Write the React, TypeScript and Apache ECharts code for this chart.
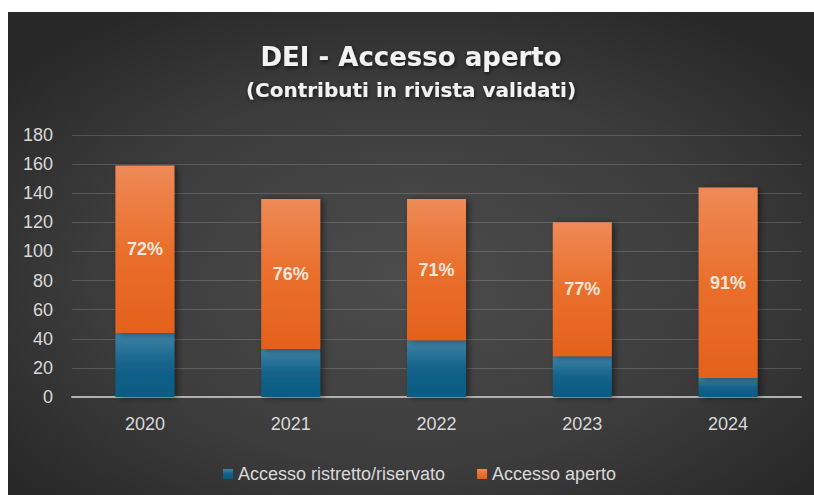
import React, { useEffect, useRef } from 'react';
import * as echarts from 'echarts';

const years = ['2020', '2021', '2022', '2023', '2024'];
const restricted = [44, 33, 39, 28, 13];
const openAccess = [115, 103, 97, 92, 131];
const openPct = ['72%', '76%', '71%', '77%', '91%'];
const seriesNames = ['Accesso ristretto/riservato', 'Accesso aperto'];
const titleText = 'DEI - Accesso aperto';
const subtitleText = '(Contributi in rivista validati)';

const W = 806;
const H = 483;

export default function App() {
  const ref = useRef<HTMLDivElement>(null);

  useEffect(() => {
    if (!ref.current) return;
    const chart = echarts.init(ref.current, undefined, { renderer: 'svg' });
    const blue = new echarts.graphic.LinearGradient(0, 0, 0, 1, [
      { offset: 0, color: '#3f83a5' },
      { offset: 0.5, color: '#13628a' },
      { offset: 1, color: '#0b5a82' },
    ]);
    const orange = new echarts.graphic.LinearGradient(0, 0, 0, 1, [
      { offset: 0, color: '#ee8a57' },
      { offset: 0.5, color: '#ea6f2c' },
      { offset: 1, color: '#e4611c' },
    ]);
    const shadow = {
      shadowColor: 'rgba(0,0,0,0.45)',
      shadowBlur: 6,
      shadowOffsetX: 3,
      shadowOffsetY: 1,
    };
    chart.setOption({
      animation: false,
      graphic: [
        {
          type: 'rect',
          z: -100,
          silent: true,
          shape: { x: 0, y: 0, width: W, height: H },
          style: {
            fill: new echarts.graphic.RadialGradient(0.5, 0.55, 0.65, [
              { offset: 0, color: '#4c4c4c' },
              { offset: 0.6, color: '#3c3c3c' },
              { offset: 1, color: '#282828' },
            ]),
          },
        },
      ],
      title: [
        {
          text: titleText,
          left: 'center',
          top: 27,
          textStyle: {
            fontFamily: 'DejaVu Sans',
            fontWeight: 'bold',
            fontSize: 26,
            color: '#f2f2f2',
            textShadowColor: 'rgba(0,0,0,0.6)',
            textShadowBlur: 4,
            textShadowOffsetX: 1,
            textShadowOffsetY: 2,
          },
        },
        {
          text: subtitleText,
          left: 'center',
          top: 63,
          textStyle: {
            fontFamily: 'DejaVu Sans',
            fontWeight: 'bold',
            fontSize: 20,
            color: '#f2f2f2',
            textShadowColor: 'rgba(0,0,0,0.6)',
            textShadowBlur: 4,
            textShadowOffsetX: 1,
            textShadowOffsetY: 2,
          },
        },
      ],
      legend: {
        data: seriesNames,
        left: 210,
        top: 448,
        icon: 'rect',
        itemWidth: 10,
        itemHeight: 10,
        itemGap: 32,
        textStyle: {
          fontFamily: 'Liberation Sans',
          fontSize: 18,
          color: '#d9d9d9',
        },
      },
      grid: { left: 64, right: 13, top: 123, bottom: 98, containLabel: false },
      xAxis: {
        type: 'category',
        data: years,
        axisLine: { lineStyle: { color: '#b0b0b0', width: 2 } },
        axisTick: { show: false },
        axisLabel: {
          margin: 18,
          fontFamily: 'Liberation Sans',
          fontSize: 18,
          color: '#d9d9d9',
        },
      },
      yAxis: {
        type: 'value',
        min: 0,
        max: 180,
        interval: 20,
        axisLine: { show: false },
        axisTick: { show: false },
        splitLine: { lineStyle: { color: 'rgba(255,255,255,0.16)', width: 1 } },
        axisLabel: {
          margin: 19,
          fontFamily: 'Liberation Sans',
          fontSize: 18,
          color: '#d9d9d9',
        },
      },
      series: [
        {
          name: seriesNames[0],
          type: 'bar',
          stack: 'total',
          barWidth: 59,
          data: restricted,
          itemStyle: { color: blue, ...shadow },
        },
        {
          name: seriesNames[1],
          type: 'bar',
          stack: 'total',
          barWidth: 59,
          data: openAccess,
          itemStyle: { color: orange, ...shadow },
          label: {
            show: true,
            position: 'inside',
            formatter: (p: any) => openPct[p.dataIndex],
            fontFamily: 'Liberation Sans',
            fontWeight: 'bold',
            fontSize: 18,
            color: '#f3e6dc',
          },
        },
      ],
    });
    return () => chart.dispose();
  }, []);

  return (
    <div
      ref={ref}
      style={{ position: 'absolute', left: 8, top: 12, width: W, height: H }}
    />
  );
}
